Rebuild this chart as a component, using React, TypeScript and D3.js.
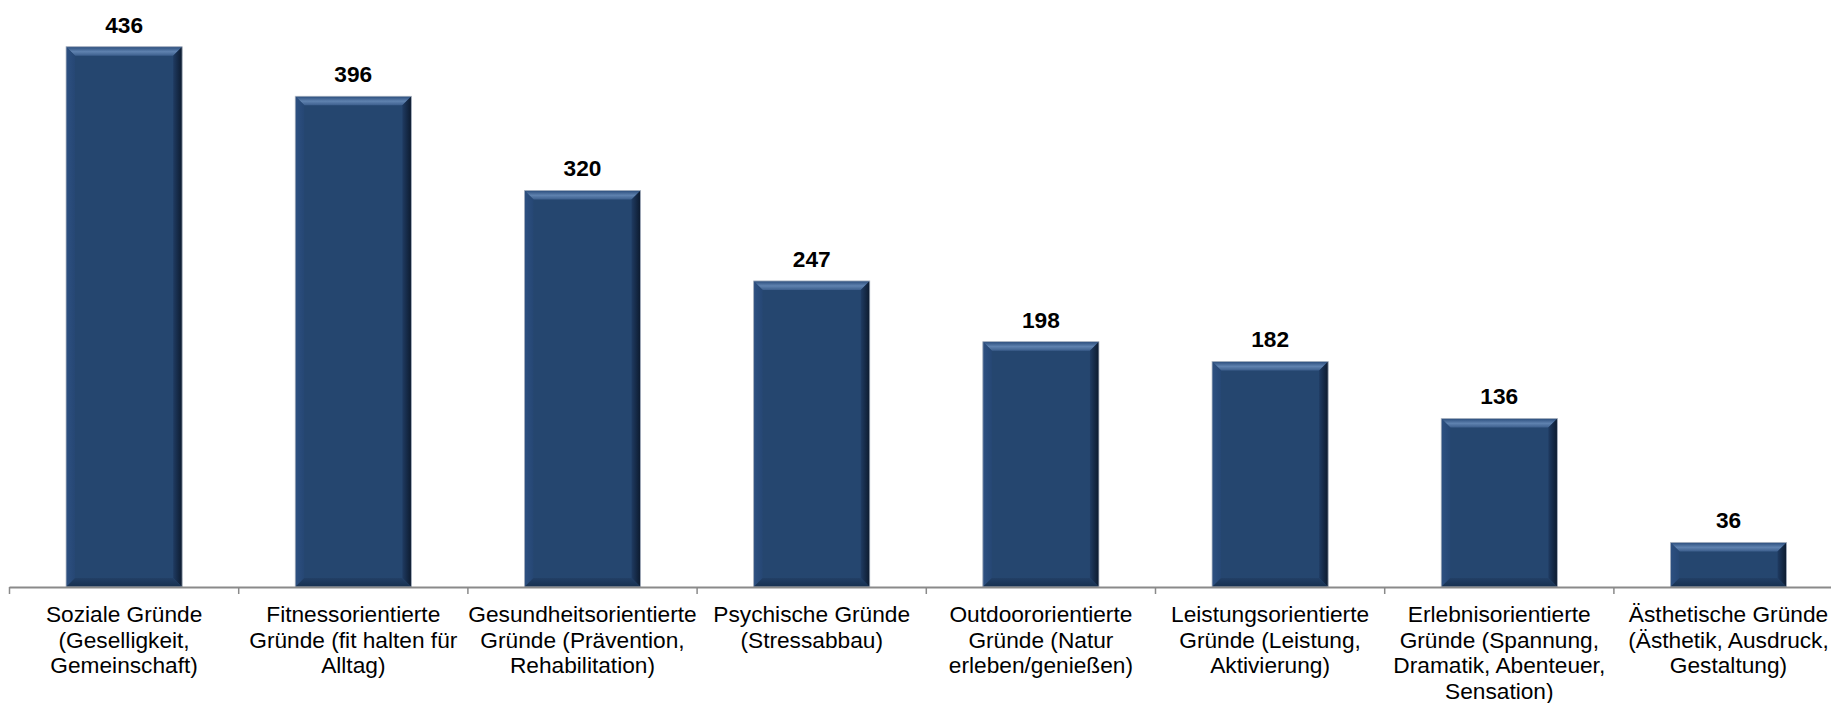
import React from "react";
import * as d3 from "d3";

const categories: string[][] = [
  ["Soziale Gründe", "(Geselligkeit,", "Gemeinschaft)"],
  ["Fitnessorientierte", "Gründe (fit halten für", "Alltag)"],
  ["Gesundheitsorientierte", "Gründe (Prävention,", "Rehabilitation)"],
  ["Psychische Gründe", "(Stressabbau)"],
  ["Outdoororientierte", "Gründe (Natur", "erleben/genießen)"],
  ["Leistungsorientierte", "Gründe (Leistung,", "Aktivierung)"],
  ["Erlebnisorientierte", "Gründe (Spannung,", "Dramatik, Abenteuer,", "Sensation)"],
  ["Ästhetische Gründe", "(Ästhetik, Ausdruck,", "Gestaltung)"],
];
const values: number[] = [436, 396, 320, 247, 198, 182, 136, 36];

const W = 1831;
const H = 703;
const baseY = 587;
const left = 9.5;
const step = 229.2;
const FONT = "Arial, 'Liberation Sans', Helvetica, sans-serif";

export default function App() {
  const keys = categories.map((_, i) => String(i));
  const x = d3
    .scaleBand<string>()
    .domain(keys)
    .range([left, left + step * keys.length])
    .paddingInner(0.4934)
    .paddingOuter(0.2467);
  const y = d3.scaleLinear().domain([0, 436]).range([baseY, 46.7]);
  const b = 9;

  return (
    <svg
      width={W}
      height={H}
      style={{ position: "absolute", left: 0, top: 0, background: "#fff" }}
      fontFamily={FONT}
    >
      <defs>
        <linearGradient id="topG" x1="0" y1="0" x2="0" y2="1">
          <stop offset="0%" stopColor="#2a4c7b" />
          <stop offset="55%" stopColor="#5f82af" />
          <stop offset="100%" stopColor="#3d5f8d" />
        </linearGradient>
        <linearGradient id="rightG" x1="0" y1="0" x2="1" y2="0">
          <stop offset="0%" stopColor="#1f3b62" />
          <stop offset="100%" stopColor="#0c1a2e" />
        </linearGradient>
        <linearGradient id="leftG" x1="0" y1="0" x2="1" y2="0">
          <stop offset="0%" stopColor="#2d5081" />
          <stop offset="100%" stopColor="#264774" />
        </linearGradient>
        <linearGradient id="botG" x1="0" y1="0" x2="0" y2="1">
          <stop offset="0%" stopColor="#223f66" />
          <stop offset="100%" stopColor="#16304f" />
        </linearGradient>
      </defs>
      {values.map((v, i) => {
        const x0 = x(String(i))!;
        const x1 = x0 + x.bandwidth();
        const y0 = y(v);
        const y1 = y(0);
        const cx = (x0 + x1) / 2;
        const pts = (arr: number[][]) => arr.map((p) => p.join(",")).join(" ");
        return (
          <g key={i}>
            <rect x={x0} y={y0} width={x1 - x0} height={y1 - y0} fill="#25466f" />
            <polygon
              points={pts([[x0, y0], [x1, y0], [x1 - b, y0 + b], [x0 + b, y0 + b]])}
              fill="url(#topG)"
            />
            <polygon
              points={pts([[x0, y0], [x0 + b, y0 + b], [x0 + b, y1 - b], [x0, y1]])}
              fill="url(#leftG)"
            />
            <polygon
              points={pts([[x1, y0], [x1, y1], [x1 - b, y1 - b], [x1 - b, y0 + b]])}
              fill="url(#rightG)"
            />
            <polygon
              points={pts([[x0, y1], [x1, y1], [x1 - b, y1 - b], [x0 + b, y1 - b]])}
              fill="url(#botG)"
            />
            <rect
              x={x0}
              y={y0}
              width={x1 - x0}
              height={y1 - y0}
              fill="none"
              stroke="#b4bcc8"
              strokeWidth={0.8}
            />
            <text
              x={cx}
              y={y0 - 14}
              textAnchor="middle"
              fontSize={22.7}
              fontWeight="bold"
              fill="#000"
            >
              {v}
            </text>
          </g>
        );
      })}
      <line x1={left} x2={W} y1={baseY + 0.5} y2={baseY + 0.5} stroke="#8a8a8a" strokeWidth={2} />
      {d3.range(keys.length + 1).map((k) => {
        const tx = left + k * step;
        return (
          <line key={k} x1={tx} x2={tx} y1={baseY} y2={baseY + 7} stroke="#8a8a8a" strokeWidth={1.5} />
        );
      })}
      {categories.map((lines, i) => {
        const cx = x(String(i))! + x.bandwidth() / 2;
        return (
          <text key={i} textAnchor="middle" fontSize={22.7} fill="#000">
            {lines.map((ln, j) => (
              <tspan key={j} x={cx} y={622 + j * 25.7}>
                {ln}
              </tspan>
            ))}
          </text>
        );
      })}
    </svg>
  );
}
